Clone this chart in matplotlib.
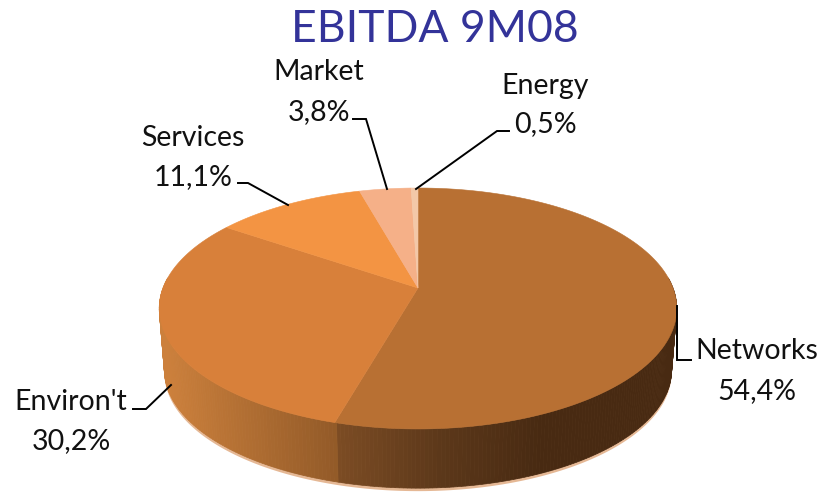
import numpy as np
from matplotlib import pyplot as plt
from matplotlib.patches import Polygon

plt.rcParams['font.family'] = ['Lato', 'DejaVu Sans']

# clockwise from 12 o'clock
categories = ['Networks', 'Environ\'t', 'Services', 'Market', 'Energy']
shares = [54.4, 30.2, 11.1, 3.8, 0.5]
share_labels = ['54,4%', '30,2%', '11,1%', '3,8%', '0,5%']
top_colors = ['#B87033', '#D8803A', '#F39443', '#F5B088', '#F3C8A8']

# pixel layout of the tilted disc
CX, CY = 418, 288
A, B, K = 255, 117, 0.17
DEPTH = 62
BOTTOM_SCALE = 0.98

label_pos = {'Networks': (757, 351, 391), 'Environ\'t': (71, 402, 441), 'Services': (193, 138, 177),
             'Market': (319, 72, 112), 'Energy': (545, 86, 124)}
leaders = {'Networks': [(677, 306), (677, 360), (691, 360)],
           'Environ\'t': [(133, 409), (146, 409), (171, 385)],
           'Services': [(238, 183), (248, 183), (288, 205)],
           'Market': [(353, 119), (366, 119), (387, 189)],
           'Energy': [(509, 131), (497, 131), (416, 189)]}


def rim( t, scale = 1.0, dy = 0 ):
    """Point of the disc edge at clockwise angle t (radians from the top), in pixels."""
    u, v = np.sin(t), np.cos(t)
    d = 1 + K * v
    return CX + scale * A * u / d, CY + dy - scale * B * v / d


def side_color( x, t_split ):
    # shading runs left to right, with a step at the Networks/Environ edge
    if x < t_split:
        stops = ([165, 337], [(204, 128, 60), (146, 90, 40)])
    else:
        stops = ([337, 440, 540], [(124, 76, 36), (92, 56, 26), (72, 42, 18)])
    return tuple(np.interp(x, stops[0], [c[i] for c in stops[1]]) / 255 for i in range(3))


fig = plt.figure(figsize = (8.19, 4.94), dpi = 100)
ax = fig.add_axes([0, 0, 1, 1])
ax.set_xlim(0, 819)
ax.set_ylim(494, 0)
ax.axis('off')

edges = np.radians(np.concatenate([[0], np.cumsum(shares)]) * 3.6)

# light fringe under the wall
ts = np.radians(np.linspace(85, 275, 200))
xs, ys = rim(ts)
xb, yb = rim(ts, BOTTOM_SCALE, DEPTH + 3)
ax.add_patch(Polygon(np.r_[np.c_[xs, ys], np.c_[xb, yb][::-1]], closed = True, fc = '#E5B895', ec = 'none', zorder = 1))

# side wall, thin strips
ts = np.radians(np.linspace(85, 275, 240))
split_x = rim(edges[1])[0]
for t0, t1 in zip(ts[:-1], ts[1:]):
    x0, y0 = rim(t0)
    x1, y1 = rim(t1)
    x2, y2 = rim(t1, BOTTOM_SCALE, DEPTH)
    x3, y3 = rim(t0, BOTTOM_SCALE, DEPTH)
    col = side_color((x0 + x1) / 2, split_x)
    ax.add_patch(Polygon([(x0, y0), (x1, y1), (x2, y2), (x3, y3)], closed = True, fc = col, ec = col, lw = 0.5, zorder = 2))

# top face
for i, col in enumerate(top_colors):
    t = np.linspace(edges[i], edges[i + 1], 160)
    x, y = rim(t)
    ax.add_patch(Polygon(np.r_[[(CX, CY)], np.c_[x, y]], closed = True, fc = col, ec = col, lw = 0.4, zorder = 3))

# labels and leaders
for name, share in zip(categories, share_labels):
    lx, y1, y2 = label_pos[name]
    ax.text(lx, y1, name, fontsize = 20.5, ha = 'center', va = 'center', color = '#111111', zorder = 5)
    ax.text(lx, y2, share, fontsize = 20.5, ha = 'center', va = 'center', color = '#111111', zorder = 5)
    pts = np.array(leaders[name])
    ax.plot(pts[:, 0], pts[:, 1], color = 'black', lw = 1.4, zorder = 4, solid_joinstyle = 'miter')

ax.text(435, 30, 'EBITDA 9M08', fontsize = 32, ha = 'center', va = 'center', color = '#333399', zorder = 5)

fig.savefig('out.png', dpi = 100)
